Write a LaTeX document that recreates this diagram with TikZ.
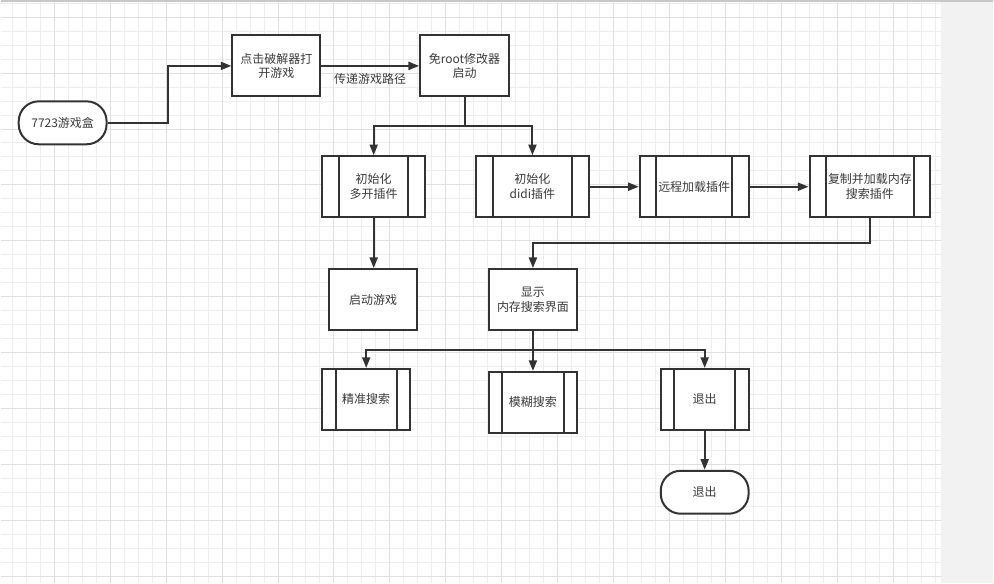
\documentclass[tikz,border=0pt]{standalone}
\usepackage{fontspec}
\newfontfamily\cjk{Noto Sans CJK SC}
\usetikzlibrary{arrows.meta,positioning,calc}
\definecolor{ln}{HTML}{333333}
\definecolor{tx}{HTML}{3a3a3a}
\definecolor{gmin}{HTML}{ededed}
\definecolor{gmaj}{HTML}{e0e0e0}
\definecolor{strip}{HTML}{f2f2f2}
\def\px{0.75pt}
\tikzset{box/.style={draw=ln,line width=1.5pt,fill=white,text=tx,align=center,inner sep=1pt,
  minimum width=88*\px,minimum height=61*\px},
 proc/.style={box,path picture={\draw[ln,line width=1.5pt]
  ([xshift=#1]path picture bounding box.north west)--([xshift=#1]path picture bounding box.south west)
  ([xshift=-#1]path picture bounding box.north east)--([xshift=-#1]path picture bounding box.south east);}},
 proc/.default=12.5pt,
 term/.style={box,rounded corners=15pt,minimum height=43*\px},
 flow/.style={-{Triangle[length=8pt,width=6pt]},draw=ln,line width=1.5pt},
 lbl/.style={text=tx,inner sep=1pt}}
\begin{document}
\begin{tikzpicture}[x=0.75pt,y=-0.75pt,font=\cjk\fontsize{9}{11}\selectfont]
% background and grid
\fill[white] (0,0) rectangle (994,583);
\fill[strip] (942,0) rectangle (994,583);
\foreach \x in {11.7,25.7,...,940} \draw[gmin,line width=\px] (\x,0)--(\x,583);
\foreach \y in {2.7,16.7,...,583} \draw[gmin,line width=\px] (0,\y)--(942,\y);
\foreach \x in {53.7,109.7,...,940} \draw[gmaj,line width=\px] (\x,0)--(\x,583);
\foreach \y in {16.7,72.7,...,583} \draw[gmaj,line width=\px] (0,\y)--(942,\y);
\draw[black!22,line width=1.5*\px] (0,0.5)--(994,0.5);
\useasboundingbox (0,0) rectangle (994,583);
% top row
\node[term](box) at(62,122.5){7723游戏盒};
\node[box](crack) at(276,65.5){点击破解器打\\开游戏};
\node[box,minimum width=89*\px](noroot) at(464.5,65.5){免root修改器\\启动};
% plugins
\node[proc,minimum width=103*\px](multi) at(373.5,186.5){初始化\\多开插件};
\node[proc,minimum width=113*\px](didi) at(532.5,186.5){初始化\\didi插件};
\node[proc,minimum width=109*\px](remote) at(694.5,186.5){远程加载插件};
\node[proc,minimum width=121*\px](copy) at(870.5,186.5){复制并加载内存\\搜索插件};
\node[box](launch) at(373,299.5){启动游戏};
\node[box](show) at(533,299.5){显示\\内存搜索界面};
% search options
\node[proc=10pt](exact) at(366,399.5){精准搜索};
\node[proc=10pt](fuzzy) at(533,402.5){模糊搜索};
\node[proc=10pt](quit) at(705,399.5){退出};
\node[term](quitend) at(705,492.5){退出};
% connectors
\draw[flow](box.east)--++(61,0)|-(crack.west);
\draw[flow](crack.east)--node[lbl,below=4pt]{传递游戏路径}(noroot.west);
\draw[flow](noroot.south)--++(0,29)-|(multi.north);
\draw[flow](noroot.south)--++(0,29)-|(didi.north);
\draw[flow](didi.east)--(remote.west);
\draw[flow](remote.east)--(copy.west);
\draw[flow](copy.south)--++(0,25)-|(show.north);
\draw[flow](multi.south)--(multi.south|-launch.north);
\draw[flow](show.south)--++(0,19)-|(exact.north);
\draw[flow](show.south)--(fuzzy.north);
\draw[flow](show.south)--++(0,19)-|(quit.north);
\draw[flow](quit.south)--(quitend.north);
\end{tikzpicture}
\end{document}
